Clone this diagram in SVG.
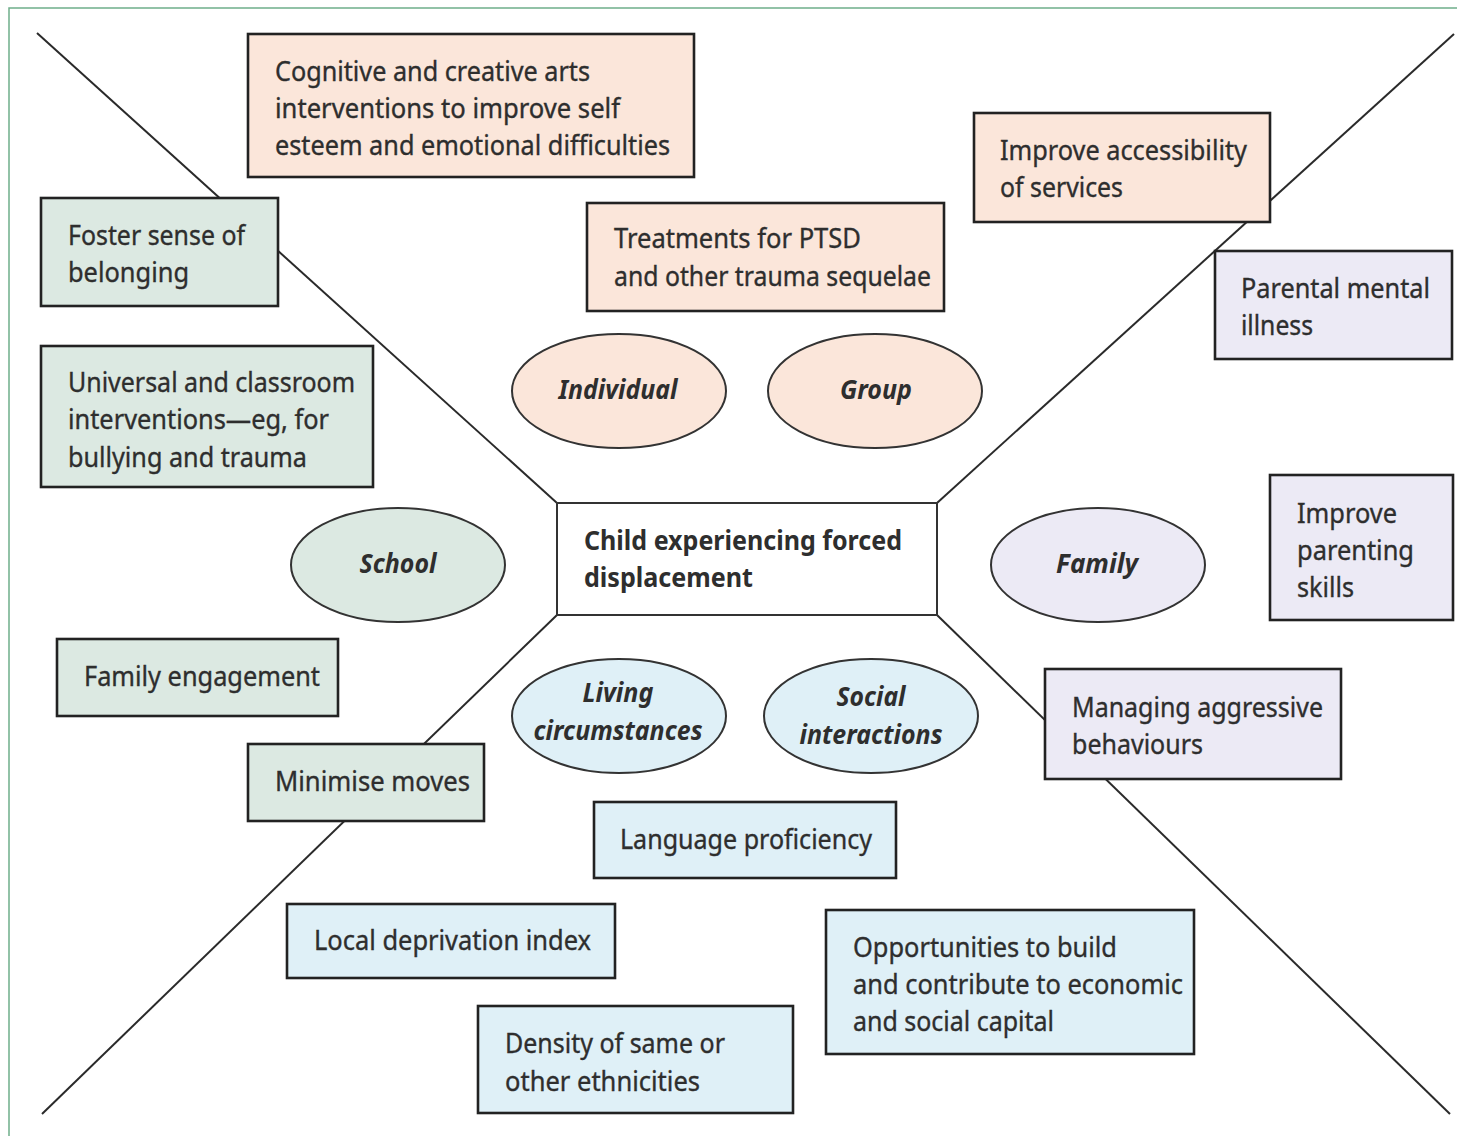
<svg xmlns="http://www.w3.org/2000/svg" width="1457" height="1136" viewBox="0 0 1457 1136">
  <style>
    .frame { fill: none; stroke: #6fae8a; stroke-width: 1.5; }
    .ray { stroke: #2a2a2a; stroke-width: 2; fill: none; }
    .box { stroke: #222; stroke-width: 2.6; }
    .oval { stroke: #333; stroke-width: 2; }
    .ind { fill: #fbe6da; }
    .sch { fill: #dce9e2; }
    .fam { fill: #eceaf5; }
    .com { fill: #dff0f7; }
    .core { fill: #ffffff; stroke: #333; stroke-width: 2; }
    text { font-family: "Noto Sans", "Open Sans", sans-serif; font-size: 27px; fill: #2e2e2e; stroke: #2e2e2e; stroke-width: 0.35; }
    .lbl { font-weight: bold; font-style: italic; text-anchor: middle; stroke-width: 0; }
    .hub { font-weight: bold; stroke-width: 0; }
  </style>

  <!-- page frame -->
  <path class="frame" d="M9,1136 V8 H1457"/>

  <!-- spokes from the centre box to the corners -->
  <g id="connectors">
    <line class="ray" x1="37" y1="33" x2="557" y2="503"/>
    <line class="ray" x1="1454" y1="34" x2="937" y2="503"/>
    <line class="ray" x1="42" y1="1114" x2="557" y2="615"/>
    <line class="ray" x1="1450" y1="1114" x2="937" y2="615"/>
  </g>

  <!-- centre -->
  <g id="child">
    <rect class="core" x="557" y="503" width="380" height="112"/>
    <text class="hub" x="584" y="550" textLength="318" lengthAdjust="spacingAndGlyphs">Child experiencing forced</text>
    <text class="hub" x="584" y="587" textLength="169" lengthAdjust="spacingAndGlyphs">displacement</text>
  </g>

  <!-- individual / group level -->
  <g id="cognitive-arts">
    <rect class="box ind" x="248" y="34" width="446" height="143"/>
    <text x="275" y="81" textLength="315" lengthAdjust="spacingAndGlyphs">Cognitive and creative arts</text>
    <text x="275" y="118" textLength="345" lengthAdjust="spacingAndGlyphs">interventions to improve self</text>
    <text x="275" y="155" textLength="395" lengthAdjust="spacingAndGlyphs">esteem and emotional difficulties</text>
  </g>
  <g id="accessibility">
    <rect class="box ind" x="974" y="113" width="296" height="109"/>
    <text x="1000" y="160" textLength="247" lengthAdjust="spacingAndGlyphs">Improve accessibility</text>
    <text x="1000" y="197" textLength="123" lengthAdjust="spacingAndGlyphs">of services</text>
  </g>
  <g id="ptsd">
    <rect class="box ind" x="587" y="203" width="357" height="108"/>
    <text x="614" y="248" textLength="247" lengthAdjust="spacingAndGlyphs">Treatments for PTSD</text>
    <text x="614" y="286" textLength="317" lengthAdjust="spacingAndGlyphs">and other trauma sequelae</text>
  </g>
  <g id="individual">
    <ellipse class="oval ind" cx="619" cy="391" rx="107" ry="57"/>
    <text class="lbl" x="618" y="399" textLength="119" lengthAdjust="spacingAndGlyphs">Individual</text>
  </g>
  <g id="group">
    <ellipse class="oval ind" cx="875" cy="391" rx="107" ry="57"/>
    <text class="lbl" x="876" y="399" textLength="72" lengthAdjust="spacingAndGlyphs">Group</text>
  </g>

  <!-- school level -->
  <g id="belonging">
    <rect class="box sch" x="41" y="198" width="237" height="108"/>
    <text x="68" y="245" textLength="177" lengthAdjust="spacingAndGlyphs">Foster sense of</text>
    <text x="68" y="282" textLength="121" lengthAdjust="spacingAndGlyphs">belonging</text>
  </g>
  <g id="classroom">
    <rect class="box sch" x="41" y="346" width="332" height="141"/>
    <text x="68" y="392" textLength="287" lengthAdjust="spacingAndGlyphs">Universal and classroom</text>
    <text x="68" y="429" textLength="261" lengthAdjust="spacingAndGlyphs">interventions—eg, for</text>
    <text x="68" y="467" textLength="239" lengthAdjust="spacingAndGlyphs">bullying and trauma</text>
  </g>
  <g id="school">
    <ellipse class="oval sch" cx="398" cy="565" rx="107" ry="57"/>
    <text class="lbl" x="398" y="573" textLength="77" lengthAdjust="spacingAndGlyphs">School</text>
  </g>
  <g id="family-engagement">
    <rect class="box sch" x="57" y="639" width="281" height="77"/>
    <text x="84" y="686" textLength="236" lengthAdjust="spacingAndGlyphs">Family engagement</text>
  </g>
  <g id="minimise-moves">
    <rect class="box sch" x="248" y="744" width="236" height="77"/>
    <text x="275" y="791" textLength="195" lengthAdjust="spacingAndGlyphs">Minimise moves</text>
  </g>

  <!-- family level -->
  <g id="parental-illness">
    <rect class="box fam" x="1215" y="251" width="237" height="108"/>
    <text x="1241" y="298" textLength="189" lengthAdjust="spacingAndGlyphs">Parental mental</text>
    <text x="1241" y="335" textLength="72" lengthAdjust="spacingAndGlyphs">illness</text>
  </g>
  <g id="family">
    <ellipse class="oval fam" cx="1098" cy="565" rx="107" ry="57"/>
    <text class="lbl" x="1097" y="573" textLength="82" lengthAdjust="spacingAndGlyphs">Family</text>
  </g>
  <g id="parenting">
    <rect class="box fam" x="1270" y="475" width="183" height="145"/>
    <text x="1297" y="523" textLength="100" lengthAdjust="spacingAndGlyphs">Improve</text>
    <text x="1297" y="560" textLength="117" lengthAdjust="spacingAndGlyphs">parenting</text>
    <text x="1297" y="597" textLength="57" lengthAdjust="spacingAndGlyphs">skills</text>
  </g>
  <g id="aggression">
    <rect class="box fam" x="1045" y="669" width="296" height="110"/>
    <text x="1072" y="717" textLength="251" lengthAdjust="spacingAndGlyphs">Managing aggressive</text>
    <text x="1072" y="754" textLength="131" lengthAdjust="spacingAndGlyphs">behaviours</text>
  </g>

  <!-- community level -->
  <g id="living">
    <ellipse class="oval com" cx="619" cy="716" rx="107" ry="57"/>
    <text class="lbl" x="618" y="702" textLength="71" lengthAdjust="spacingAndGlyphs">Living</text>
    <text class="lbl" x="618" y="740" textLength="169" lengthAdjust="spacingAndGlyphs">circumstances</text>
  </g>
  <g id="social">
    <ellipse class="oval com" cx="871" cy="716" rx="107" ry="57"/>
    <text class="lbl" x="871" y="706" textLength="69" lengthAdjust="spacingAndGlyphs">Social</text>
    <text class="lbl" x="871" y="744" textLength="143" lengthAdjust="spacingAndGlyphs">interactions</text>
  </g>
  <g id="language">
    <rect class="box com" x="594" y="802" width="302" height="76"/>
    <text x="620" y="849" textLength="252" lengthAdjust="spacingAndGlyphs">Language proficiency</text>
  </g>
  <g id="deprivation">
    <rect class="box com" x="287" y="904" width="328" height="74"/>
    <text x="314" y="950" textLength="277" lengthAdjust="spacingAndGlyphs">Local deprivation index</text>
  </g>
  <g id="capital">
    <rect class="box com" x="826" y="910" width="368" height="144"/>
    <text x="853" y="957" textLength="264" lengthAdjust="spacingAndGlyphs">Opportunities to build</text>
    <text x="853" y="994" textLength="330" lengthAdjust="spacingAndGlyphs">and contribute to economic</text>
    <text x="853" y="1031" textLength="201" lengthAdjust="spacingAndGlyphs">and social capital</text>
  </g>
  <g id="ethnic-density">
    <rect class="box com" x="478" y="1006" width="315" height="107"/>
    <text x="505" y="1053" textLength="220" lengthAdjust="spacingAndGlyphs">Density of same or</text>
    <text x="505" y="1091" textLength="195" lengthAdjust="spacingAndGlyphs">other ethnicities</text>
  </g>
</svg>
